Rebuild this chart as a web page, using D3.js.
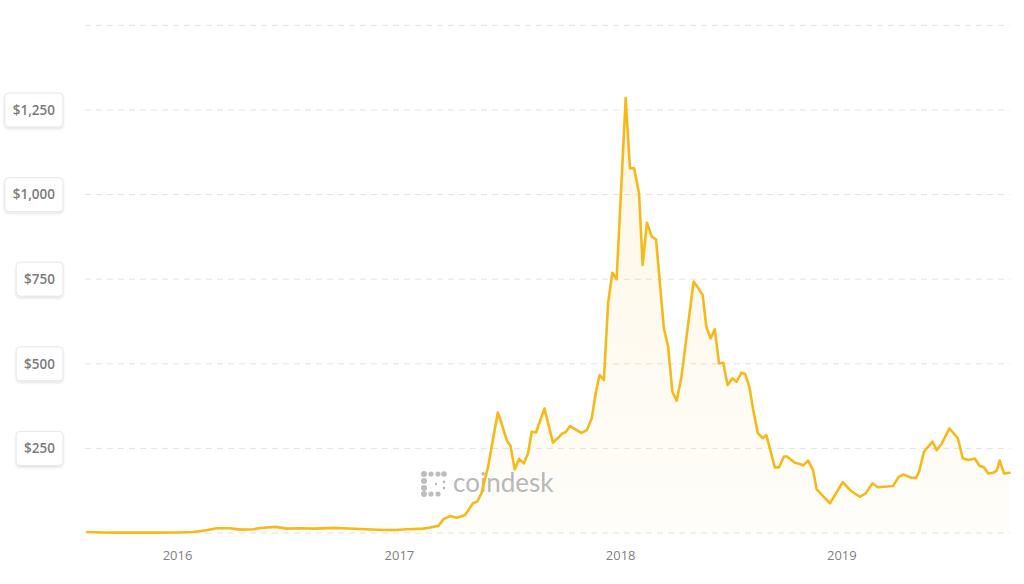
<!DOCTYPE html>
<html>
<head>
<meta charset="utf-8">
<script src="https://cdn.jsdelivr.net/npm/d3@7/dist/d3.min.js"></script>
<style>
  html, body { margin: 0; padding: 0; background: #ffffff; }
  svg { display: block; }
</style>
</head>
<body>
<svg id="chart" width="1024" height="584"></svg>
<script>
// ---- Data ----
const dates = [
  "2015-08-07","2015-09-01","2015-10-01","2015-11-01","2015-12-01","2016-01-01","2016-01-28","2016-02-20",
  "2016-03-07","2016-03-29","2016-04-15","2016-05-07","2016-05-18","2016-06-12","2016-07-01","2016-07-23",
  "2016-08-14","2016-09-21","2016-10-30","2016-12-07","2016-12-29","2017-01-15","2017-02-11","2017-02-22",
  "2017-03-08","2017-03-16","2017-03-27","2017-04-07","2017-04-21","2017-05-04","2017-05-11","2017-05-18",
  "2017-05-29","2017-06-14","2017-06-20","2017-06-29","2017-07-05","2017-07-12","2017-07-19","2017-07-27",
  "2017-08-03","2017-08-09","2017-08-16","2017-08-30","2017-09-13","2017-09-22","2017-09-29","2017-10-04",
  "2017-10-11","2017-10-22","2017-10-30","2017-11-08","2017-11-16","2017-11-23","2017-11-29","2017-12-06",
  "2017-12-13","2017-12-20","2017-12-27","2018-01-11","2018-01-18","2018-01-25","2018-02-02","2018-02-08",
  "2018-02-15","2018-02-23","2018-03-02","2018-03-15","2018-03-22","2018-03-29","2018-04-05","2018-04-13",
  "2018-05-03","2018-05-11","2018-05-18","2018-05-24","2018-05-31","2018-06-07","2018-06-14","2018-06-21",
  "2018-06-28","2018-07-06","2018-07-13","2018-07-21","2018-07-27","2018-08-03","2018-08-09","2018-08-17",
  "2018-08-25","2018-08-31","2018-09-14","2018-09-21","2018-09-29","2018-10-04","2018-10-17","2018-10-31",
  "2018-11-08","2018-11-16","2018-11-22","2018-12-01","2018-12-14","2019-01-04","2019-01-18","2019-02-01",
  "2019-02-11","2019-02-22","2019-03-03","2019-03-28","2019-04-06","2019-04-14","2019-04-28","2019-05-05",
  "2019-05-10","2019-05-18","2019-06-01","2019-06-08","2019-06-16","2019-06-29","2019-07-13","2019-07-21",
  "2019-07-30","2019-08-10","2019-08-18","2019-08-25","2019-09-01","2019-09-09","2019-09-15","2019-09-20",
  "2019-09-27","2019-10-06"
];
const prices = [
  3, 1.5, 1, 1.2, 1, 1.5, 3, 8,
  14, 14, 10, 11, 15, 18, 13, 14,
  13, 15, 12, 9, 9, 11, 13, 16,
  21, 40, 50, 45, 53, 88, 93, 117,
  196, 356, 325, 273, 257, 188, 219, 206,
  236, 299, 297, 368, 267, 282, 295, 298,
  316, 304, 296, 304, 339, 418, 467, 452,
  679, 769, 750, 1285, 1078, 1078, 1004, 792,
  917, 876, 868, 605, 551, 418, 391, 462,
  743, 723, 703, 610, 575, 602, 501, 503,
  437, 457, 447, 474, 470, 432, 368, 295,
  280, 290, 194, 194, 226, 226, 208, 200,
  214, 186, 129, 112, 88, 150, 124, 107,
  117, 147, 135, 139, 165, 173, 163, 163,
  181, 240, 270, 245, 263, 309, 280, 221,
  216, 220, 198, 194, 176, 178, 184, 214,
  176, 178
];
const gridValues = [0, 250, 500, 750, 1000, 1250, 1500];
const yTickValues = [250, 500, 750, 1000, 1250];
const yTickLabels = ["$250", "$500", "$750", "$1,000", "$1,250"];
const xTickDates = ["2016-01-01", "2017-01-01", "2018-01-01", "2019-01-01"];
const xTickLabels = ["2016", "2017", "2018", "2019"];

// ---- Chart ----
const svg = d3.select("#chart");
const parse = d3.utcParse("%Y-%m-%d");
const data = dates.map((d, i) => ({ date: parse(d), value: prices[i] }));

const x = d3.scaleUtc()
  .domain([parse("2015-08-03"), parse("2019-10-07")])
  .range([85, 1010]);
const y = d3.scaleLinear().domain([0, 1500]).range([533, 25.4]);

const defs = svg.append("defs");
const grad = defs.append("linearGradient")
  .attr("id", "areaGrad").attr("x1", 0).attr("x2", 0)
  .attr("gradientUnits", "userSpaceOnUse")
  .attr("y1", y(1300)).attr("y2", y(0));
grad.append("stop").attr("offset", "0%").attr("stop-color", "#f5b514").attr("stop-opacity", 0.11);
grad.append("stop").attr("offset", "100%").attr("stop-color", "#f5b514").attr("stop-opacity", 0.025);

const shadow = defs.append("filter").attr("id", "boxShadow")
  .attr("x", "-20%").attr("y", "-20%").attr("width", "140%").attr("height", "160%");
shadow.append("feDropShadow").attr("dx", 0).attr("dy", 1.5).attr("stdDeviation", 1.2)
  .attr("flood-color", "#000").attr("flood-opacity", 0.12);

// grid lines
svg.append("g").selectAll("line").data(gridValues).join("line")
  .attr("x1", 85).attr("x2", 1010)
  .attr("y1", d => y(d)).attr("y2", d => y(d))
  .attr("stroke", "#e2e2e2").attr("stroke-width", 1)
  .attr("stroke-dasharray", "6,5");

// area
const area = d3.area().x(d => x(d.date)).y0(y(0)).y1(d => y(d.value)).curve(d3.curveLinear);
svg.append("path").datum(data).attr("d", area).attr("fill", "url(#areaGrad)");

// watermark
const wm = svg.append("g").attr("transform", "translate(421,471)");
const dots = [
  [3,3,3],[10,3,2.6],[17,3,2.6],[23,3,2.8],
  [3,10,3],[3,17,3],
  [3,23,3],[10,23,2.6],[17,23,2.6],
  [23,11,1.4],[23,17,1.4],[15,13,1.2]
];
wm.selectAll("circle").data(dots).join("circle")
  .attr("cx", d => d[0]).attr("cy", d => d[1]).attr("r", d => d[2])
  .attr("fill", "#bdbdbd");
wm.append("text").attr("x", 32).attr("y", 21)
  .attr("font-family", "Lato, 'Open Sans', sans-serif")
  .attr("font-size", 26).attr("fill", "#b8b8b8")
  .text("coindesk");

// line
const line = d3.line().x(d => x(d.date)).y(d => y(d.value)).curve(d3.curveLinear);
svg.append("path").datum(data).attr("d", line)
  .attr("fill", "none").attr("stroke", "#f6b91a").attr("stroke-width", 2.6)
  .attr("stroke-linejoin", "round").attr("stroke-linecap", "round");

// y labels in boxes
const yLab = svg.append("g").selectAll("g").data(yTickValues).join("g")
  .attr("transform", d => `translate(0,${y(d)})`);
yLab.each(function(d, i) {
  const g = d3.select(this);
  const t = g.append("text")
    .attr("x", 0).attr("y", 0).attr("dy", "0.35em")
    .attr("font-family", "'Open Sans', sans-serif").attr("font-weight", 600)
    .attr("font-size", 13.5).attr("fill", "#7b7b7b")
    .text(yTickLabels[i]);
  const w = t.node().getComputedTextLength();
  const boxW = w + 16;
  const right = 63;
  g.insert("rect", "text")
    .attr("x", right - boxW).attr("y", -17).attr("width", boxW).attr("height", 34)
    .attr("rx", 4).attr("fill", "#fff").attr("stroke", "#e6e6e6").attr("stroke-width", 1)
    .attr("filter", "url(#boxShadow)");
  t.attr("x", right - boxW / 2).attr("text-anchor", "middle");
});

// x labels
svg.append("g").selectAll("text").data(xTickDates).join("text")
  .attr("x", d => x(parse(d)) + 1)
  .attr("y", 560)
  .attr("text-anchor", "middle")
  .attr("font-family", "'Open Sans', sans-serif")
  .attr("font-size", 13).attr("fill", "#808080")
  .text((d, i) => xTickLabels[i]);
</script>
</body>
</html>
